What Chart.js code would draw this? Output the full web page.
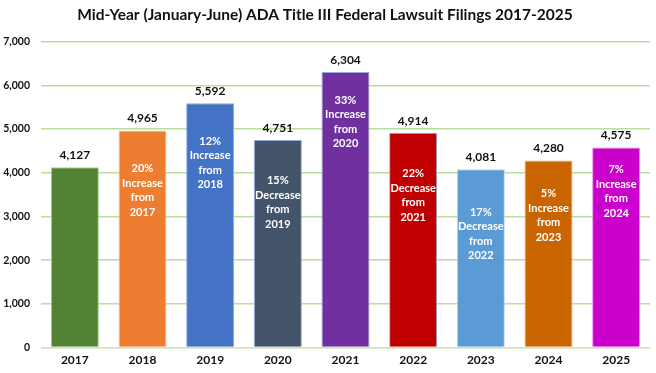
<!DOCTYPE html>
<html>
<head>
<meta charset="utf-8">
<script src="https://cdn.jsdelivr.net/npm/chart.js@4.4.1/dist/chart.umd.min.js"></script>
<style>
  html, body { margin: 0; padding: 0; background: #fff; }
  #wrap { width: 656px; height: 373px; position: relative; }
</style>
</head>
<body>
<div id="wrap"><canvas id="chart"></canvas></div>
<script>
// --- datos ---
const years = ['2017', '2018', '2019', '2020', '2021', '2022', '2023', '2024', '2025'];
const filings = [4127, 4965, 5592, 4751, 6304, 4914, 4081, 4280, 4575];
const changeNotes = [
  null,
  ['20%', 'Increase', 'from', '2017'],
  ['12%', 'Increase', 'from', '2018'],
  ['15%', 'Decrease', 'from', '2019'],
  ['33%', 'Increase', 'from', '2020'],
  ['22%', 'Decrease', 'from', '2021'],
  ['17%', 'Decrease', 'from', '2022'],
  ['5%', 'Increase', 'from', '2023'],
  ['7%', 'Increase', 'from', '2024']
];
const yTicks = [0, 1000, 2000, 3000, 4000, 5000, 6000, 7000];

// --- estilo ---
const barColors = ['#548235', '#ED7D31', '#4472C4', '#44546A', '#7030A0', '#C00000', '#5B9BD5', '#C96400', '#CC00CC'];
const barBorders = ['#A9D18E', '#F8CBAD', '#8FAADC', '#8FAADC', '#8FAADC', '#8FAADC', '#BDD7EE', '#F4B183', '#E58FE5'];
const noteOffsets = [0, 38, 38, 41, 28, 41, 43, 33, 22]; // px bajo el tope de la barra
const FONT = 'Lato, "Liberation Sans", sans-serif';

const fmt = v => v.toLocaleString('en-US');

const labelPlugin = {
  id: 'barLabels',
  afterDatasetsDraw(chart) {
    const ctx = chart.ctx;
    const meta = chart.getDatasetMeta(0);
    ctx.save();
    ctx.textAlign = 'center';
    ctx.textBaseline = 'middle';
    meta.data.forEach((bar, i) => {
      // valor encima
      ctx.fillStyle = '#111';
      ctx.font = 'bold 12px ' + FONT;
      ctx.fillText(fmt(filings[i]), bar.x, bar.y - 12);
      // nota dentro
      const note = changeNotes[i];
      if (note) {
        ctx.fillStyle = '#fff';
        ctx.font = 'bold 11px ' + FONT;
        note.forEach((line, k) => {
          ctx.fillText(line, bar.x, bar.y + noteOffsets[i] + k * 14.5);
        });
      }
    });
    ctx.restore();
  }
};

new Chart(document.getElementById('chart'), {
  type: 'bar',
  data: {
    labels: years,
    datasets: [{
      data: filings,
      backgroundColor: barColors,
      borderColor: barBorders,
      borderWidth: 1,
      categoryPercentage: 1,
      barPercentage: 0.71
    }]
  },
  options: {
    responsive: true,
    maintainAspectRatio: false,
    animation: false,
    layout: { padding: { left: 0, right: 6, top: 4, bottom: 1 } },
    plugins: {
      legend: { display: false },
      tooltip: { enabled: false },
      title: {
        display: true,
        text: 'Mid-Year (January-June) ADA Title III Federal Lawsuit Filings 2017-2025',
        color: '#111',
        font: { family: FONT, size: 15.5, weight: 'bold' },
        padding: { top: 2, bottom: 17 }
      }
    },
    scales: {
      x: {
        grid: { display: false, drawTicks: false },
        border: { color: '#d9d9d9', width: 1 },
        ticks: { color: '#111', font: { family: FONT, size: 12, weight: 'bold' }, padding: 5 }
      },
      y: {
        min: 0,
        max: 7000,
        afterBuildTicks: axis => { axis.ticks = yTicks.map(v => ({ value: v })); },
        afterFit: axis => { axis.width = 41; },
        grid: { color: '#B9DE9E', lineWidth: 1.5, drawTicks: false },
        border: { display: false },
        ticks: {
          color: '#111',
          padding: 11,
          font: { family: FONT, size: 10.5, weight: 'bold' },
          callback: v => fmt(v)
        }
      }
    }
  },
  plugins: [labelPlugin]
});
</script>
</body>
</html>
